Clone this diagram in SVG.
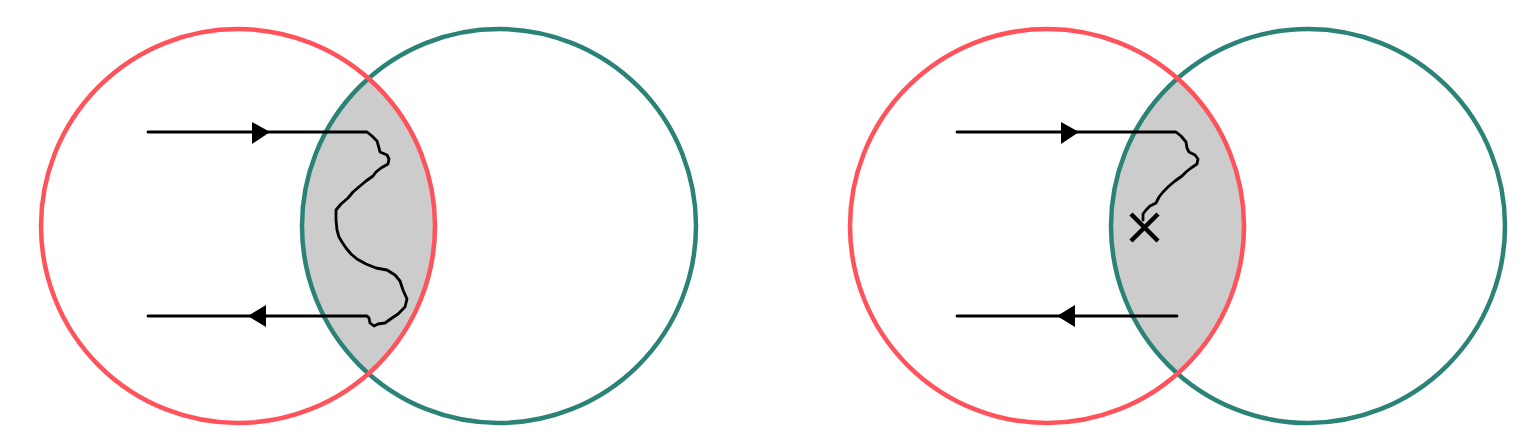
<svg xmlns="http://www.w3.org/2000/svg" width="1523" height="442" viewBox="0 0 1523 442">
<style>
.lens{fill:#cccccc;stroke:none}
.red{fill:none;stroke:#ff525a;stroke-width:4.5}
.green{fill:none;stroke:#2b8277;stroke-width:4.5}
.path{fill:none;stroke:#000;stroke-width:2.8;stroke-linejoin:round;stroke-linecap:round}
.head{fill:#000}
.x{stroke:#000;stroke-width:4.5;fill:none}
</style>
<rect width="1523" height="442" fill="#fff"/>
<g id="left-diagram">
  <path class="lens" d="M368.5 78.4 A197 197 0 0 1 368.5 373.6 A197 197 0 0 1 368.5 78.4 Z"/>
  <g id="left-green"><circle class="green" cx="499" cy="226" r="197"/></g>
  <g id="left-red"><circle class="red" cx="238" cy="226" r="197"/></g>
</g>
<g id="right-diagram">
  <path class="lens" d="M1177.5 78.4 A197 197 0 0 1 1177.5 373.6 A197 197 0 0 1 1177.5 78.4 Z"/>
  <g id="right-green"><circle class="green" cx="1308" cy="226" r="197"/></g>
  <g id="right-red"><circle class="red" cx="1047" cy="226" r="197"/></g>
</g>
<g id="connectors">
  <path class="path" d="M148 132 L367 132 L372 136 L377 141 L379 148 L380 152 L387 155 L389 159 L388 164 L381 168 L376 172 L373 176 L366 181 L360 186 L353 192 L348 198 L341 204 L336 210 L336 220 L337 230 L339 237 L342 242 L346 248 L351 254 L357 259 L366 264 L376 268 L387 270 L395 275 L400 281 L403 290 L407 299 L405 307 L398 314 L392 318 L385 323 L378 324 L374 326 L370 323 L369 318 L367 316 L148 316"/>
  <polygon class="head" points="252,122 270,132 252,144"/>
  <polygon class="head" points="248,316 266,305 266,327"/>
  <path class="path" d="M957 132 L1176 132 L1181 136 L1186 142 L1187 148 L1189 152 L1195 155 L1198 159 L1197 164 L1191 168 L1186 172 L1182 176 L1175 181 L1169 186 L1163 192 L1159 197 L1156 203 L1150 206 L1146 210 L1143 214 L1143 220"/>
  <polygon class="head" points="1061,122 1079,132 1061,144"/>
  <path class="path" d="M957 316 L1177 316"/>
  <polygon class="head" points="1057,316 1075,305 1075,327"/>
  <path class="x" d="M1131 214 L1158 241 M1158 214 L1131 241"/>
</g>
</svg>
